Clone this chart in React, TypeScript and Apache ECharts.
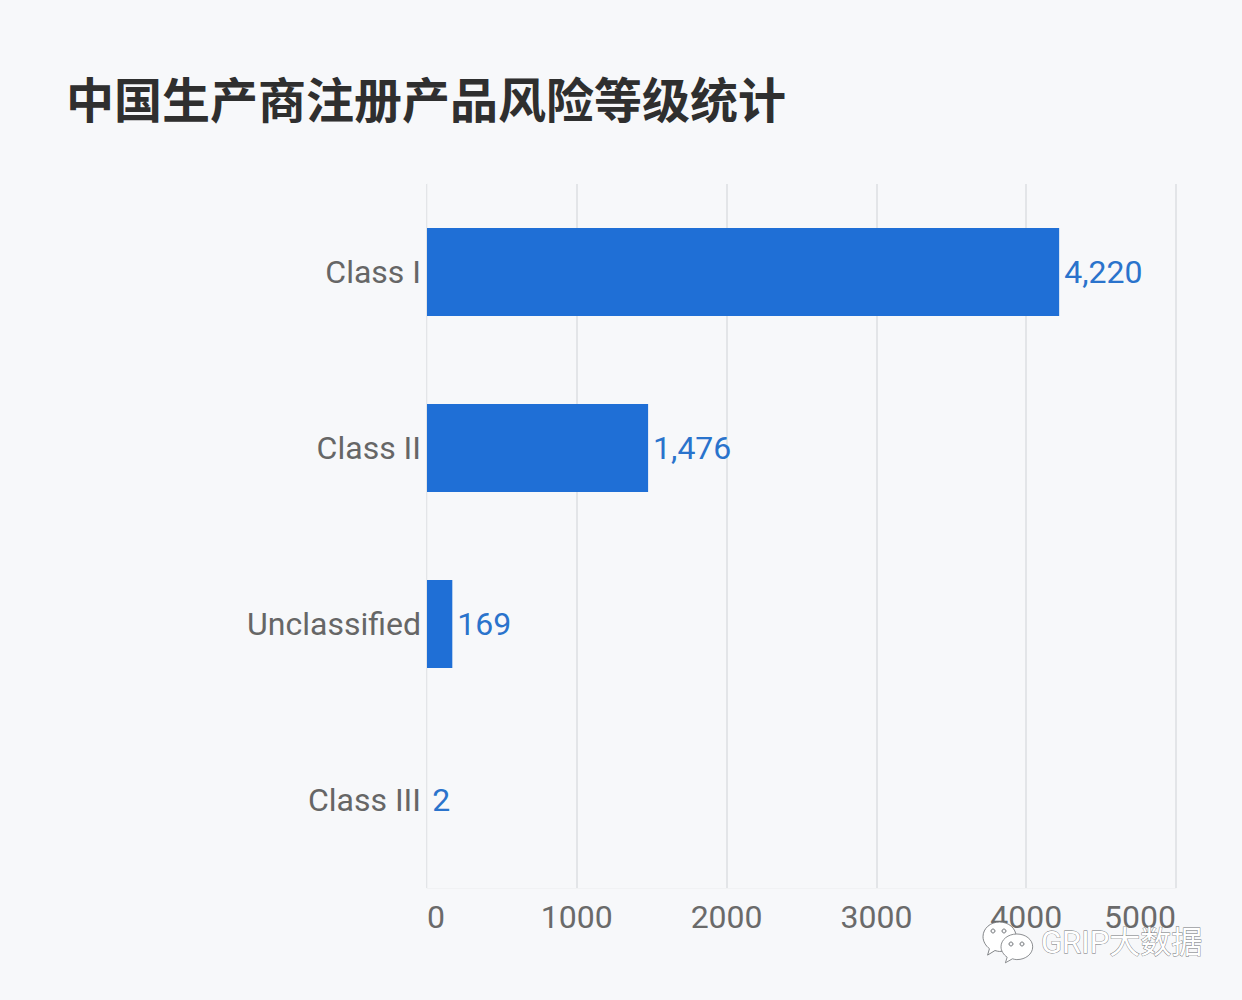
import React, { useEffect, useRef } from "react";
import * as echarts from "echarts";

const categories = ["Class I", "Class II", "Unclassified", "Class III"];
const values = [4220, 1476, 169, 2];
const titleText = "中国生产商注册产品风险等级统计";
const watermark = "GRIP大数据";
const FONT = '"Noto Sans CJK SC", sans-serif';
const LATIN = 'Roboto, "Noto Sans CJK SC", sans-serif';
const BG = "#f7f8fa";

const bubbleD =
  "M18 0C8 0 0 7 0 16C0 21 3 26 7 29L5 36L13 31C15 31.600 16.500 32 18 32C28 32 36 25 36 16C36 7 28 0 18 0Z";
echarts.graphic.registerShape("bubble", echarts.graphic.extendPath(bubbleD as any, {} as any) as any);

const bubbleStyle = { fill: "#ffffff", stroke: "#777a7d", lineWidth: 1 };
const eyeStyle = { fill: BG, stroke: "#777a7d", lineWidth: 1 };

export default function App() {
  const ref = useRef<HTMLDivElement>(null);
  useEffect(() => {
    const chart = echarts.init(ref.current!, null, { renderer: "svg" });
    chart.setOption({
      animation: false,
      backgroundColor: BG,
      title: {
        text: titleText,
        left: 61,
        top: 68,
        textStyle: { fontFamily: FONT, fontSize: 48, fontWeight: "bold", color: "#2f2f2f" },
      },
      grid: { left: 427, top: 184, width: 749, height: 704 },
      xAxis: {
        type: "value",
        min: 0,
        max: 5000,
        interval: 1000,
        axisLine: { show: true, lineStyle: { color: "#f1f2f4", width: 1 } },
        axisTick: { show: false },
        splitLine: { lineStyle: { color: "#e3e5e8", width: 2 } },
        axisLabel: {
          fontFamily: LATIN,
          fontSize: 32,
          color: "#6a6a6a",
          margin: 13,
          alignMinLabel: "left",
          alignMaxLabel: "right",
          formatter: (v: number) => String(v),
        },
      },
      yAxis: {
        type: "category",
        inverse: true,
        data: categories,
        axisLine: { show: true, lineStyle: { color: "#f1f2f4", width: 1 } },
        axisTick: { show: false },
        axisLabel: { fontFamily: LATIN, fontSize: 32, color: "#666666", margin: 6 },
      },
      series: [
        {
          type: "bar",
          data: values,
          barWidth: 88,
          itemStyle: {
            color: (p: any) => (p.value < 10 ? "#f1f2f4" : "#1f6fd6"),
          },
          label: {
            show: true,
            position: "right",
            distance: 5,
            fontFamily: LATIN,
            fontSize: 32,
            color: "#2a73cc",
            formatter: (p: any) => Number(p.value).toLocaleString("en-US"),
          },
        },
      ],
      graphic: [
        { type: "bubble", x: 983, y: 922, scaleX: 0.92, scaleY: 0.92, style: bubbleStyle, z: 100 },
        { type: "bubble", x: 1001, y: 934, scaleX: 0.88, scaleY: 0.8, style: bubbleStyle, z: 101 },
        { type: "circle", shape: { cx: 993, cy: 931, r: 2 }, style: eyeStyle, z: 102 },
        { type: "circle", shape: { cx: 1004, cy: 931, r: 2 }, style: eyeStyle, z: 102 },
        { type: "circle", shape: { cx: 1011, cy: 944, r: 2 }, style: eyeStyle, z: 102 },
        { type: "circle", shape: { cx: 1022, cy: 944, r: 2 }, style: eyeStyle, z: 102 },
        {
          type: "text",
          x: 1041,
          y: 927,
          z: 102,
          style: {
            text: watermark,
            font: `31px ${LATIN}`,
            fill: "#ffffff",
            stroke: "#6f7275",
            lineWidth: 0.8,
          },
        },
      ],
    });
    return () => chart.dispose();
  }, []);
  return <div ref={ref} style={{ width: 1242, height: 1000, position: "absolute", left: 0, top: 0 }} />;
}
